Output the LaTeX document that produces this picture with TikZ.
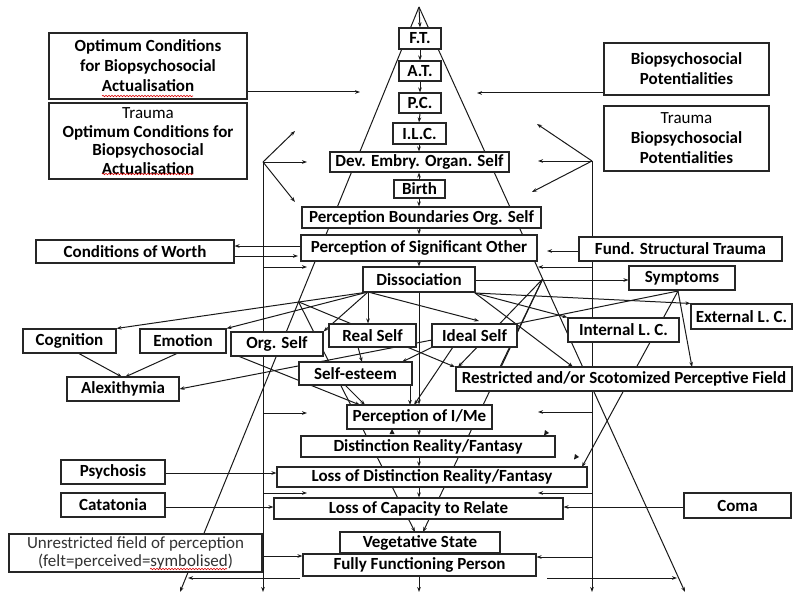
\documentclass[tikz,border=0pt]{standalone}
\usepackage{fontspec}
\setmainfont{Carlito}
\usetikzlibrary{arrows.meta,calc,decorations.pathmorphing,backgrounds}
\begin{document}
\begin{tikzpicture}[x=1pt,y=-1pt,
  box/.style={draw=black!85, line width=1.1pt, fill=white, inner sep=0pt, align=center, font=\bfseries\fontsize{17}{20}\selectfont},
  ln/.style={line width=1pt, draw=black!90},
  arr/.style={ln, -{Stealth[length=5pt,width=3.6pt]}},
  squig/.style={red!85!black, line width=0.6pt, decorate, decoration={snake, amplitude=0.7pt, segment length=3pt}}
]
\useasboundingbox (0,0) rectangle (793,594);

% ---------- boxes ----------
\node[box, minimum width=198pt, minimum height=66pt] (oc) at (148,66) {Optimum Conditions\\for Biopsychosocial\\Actualisation};
\node[box, minimum width=198pt, minimum height=76pt, font=\bfseries\fontsize{17}{18.5}\selectfont] (toc) at (148,141) {{\mdseries Trauma}\\Optimum Conditions for\\Biopsychosocial\\Actualisation};
\node[box, minimum width=165pt, minimum height=52pt] (bp) at (686.5,69) {Biopsychosocial\\Potentialities};
\node[box, minimum width=165pt, minimum height=65pt] (tbp) at (686.5,138.5) {{\mdseries Trauma}\\Biopsychosocial\\Potentialities};

\node[box, minimum width=42pt, minimum height=21pt] (ft) at (420,38.5) {F.T.};
\node[box, minimum width=42pt, minimum height=20pt] (at) at (420,71) {A.T.};
\node[box, minimum width=42pt, minimum height=20pt] (pc) at (420,103) {P.C.};
\node[box, minimum width=53pt, minimum height=21pt] (ilc) at (419.5,133.5) {I.L.C.};
\node[box, minimum width=179pt, minimum height=20pt] (dev) at (419.5,162) {Dev. Embry. Organ. Self};
\node[box, minimum width=51pt, minimum height=18pt] (birth) at (419.5,189) {Birth};
\node[box, minimum width=239pt, minimum height=21pt] (pbos) at (421.5,217.5) {Perception Boundaries Org. Self};
\node[box, minimum width=236pt, minimum height=26pt] (pso) at (419,248) {Perception of Significant Other};
\node[box, minimum width=198pt, minimum height=23pt] (cow) at (135,251.5) {Conditions of Worth};
\node[box, minimum width=203pt, minimum height=24pt] (fst) at (680.5,249) {Fund. Structural Trauma};
\node[box, minimum width=112pt, minimum height=25pt] (diss) at (419,279.5) {Dissociation};
\node[box, minimum width=106pt, minimum height=24pt] (symp) at (682,278) {Symptoms};
\node[box, minimum width=101pt, minimum height=25pt] (ext) at (741.5,316.5) {External L. C.};
\node[box, minimum width=111pt, minimum height=24pt] (intl) at (623.5,330) {Internal L. C.};
\node[box, minimum width=336pt, minimum height=24pt] (restr) at (624,379) {Restricted and/or Scotomized Perceptive Field};
\node[box, minimum width=85pt, minimum height=23pt] (ideal) at (474.5,335.5) {Ideal Self};
\node[box, minimum width=87pt, minimum height=23pt] (real) at (372.5,335.5) {Real Self};
\node[box, minimum width=92pt, minimum height=24pt] (org) at (277,344) {Org. Self};
\node[box, minimum width=113pt, minimum height=23pt] (se) at (355.5,373.5) {Self-esteem};
\node[box, minimum width=93pt, minimum height=24pt] (cog) at (69.5,341) {Cognition};
\node[box, minimum width=86pt, minimum height=24pt] (emo) at (183,341) {Emotion};
\node[box, minimum width=112pt, minimum height=24pt] (alex) at (123,389) {Alexithymia};
\node[box, minimum width=145pt, minimum height=24pt] (pim) at (419.5,417) {Perception of I/Me};
\node[box, minimum width=254pt, minimum height=21pt] (drf) at (428,446.5) {Distinction Reality/Fantasy};
\node[box, minimum width=310pt, minimum height=20pt] (ldrf) at (432,477) {Loss of Distinction Reality/Fantasy};
\node[box, minimum width=289pt, minimum height=21pt] (lcr) at (418.5,508.5) {Loss of Capacity to Relate};
\node[box, minimum width=160pt, minimum height=21pt] (veg) at (420,542.5) {Vegetative State};
\node[box, minimum width=233pt, minimum height=22pt] (ffp) at (419.5,565) {Fully Functioning Person};
\node[box, minimum width=104pt, minimum height=24pt] (psy) at (113,472) {Psychosis};
\node[box, minimum width=104pt, minimum height=24pt] (cat) at (113,505) {Catatonia};
\node[box, minimum width=253pt, minimum height=38pt, font=\mdseries\fontsize{17}{18.5}\selectfont, text=black!80] (unr) at (135.5,553) {Unrestricted field of perception\\(felt=perceived=symbolised)};
\node[box, minimum width=107pt, minimum height=25pt] (coma) at (737.5,505.5) {Coma};

% spell-check squiggles
\draw[squig] (102,96) -- (193,96);
\draw[squig] (102,174) -- (193,174);
\draw[squig] (150,569) -- (227,569);

% ---------- key points ----------
\coordinate (apex) at (419,7);
\coordinate (lbot) at (180,592);
\coordinate (rbot) at (685,592);
\coordinate (L1) at ($(apex)!0.504!(lbot)$);
\coordinate (R1) at ($(apex)!0.465!(rbot)$);
\coordinate (lvt) at (263,162);
\coordinate (lvb) at (263,592);
\coordinate (rvt) at (592,161);
\coordinate (rvb) at (592,592);
\coordinate (dBL) at (368,292);
\coordinate (dBR) at (475,293);
\coordinate (sB) at (678,291);
\coordinate (cx) at (419,0);

\begin{scope}[on background layer]
% big triangle and verticals
\draw[arr] (apex) -- (lbot);
\draw[arr] (apex) -- (rbot);
\draw[arr] (apex) -- (ft.north);
\draw[arr] (lvt) -- (lvb);
\draw[arr] (rvt) -- (rvb);
% forks
\draw[arr] (lvt) -- (295,131);
\draw[arr] (lvt) -- (307,162);
\draw[arr] (lvt) -- (295,202);
\draw[arr] (rvt) -- (537,124);
\draw[arr] (rvt) -- (538,161);
\draw[arr] (rvt) -- (532,192);
% top side arrows
\draw[arr] (oc.east |- 0,92) -- (360,92);
\draw[arr] (bp.west |- 0,93) -- (477,93);
% chain
\draw[arr] (ft.south) -- (at.north);
\draw[arr] (at.south) -- (pc.north);
\draw[arr] (pc.south) -- (cx |- ilc.north);
\draw[arr] (cx |- ilc.south) -- (cx |- dev.north);
\draw[arr] (cx |- birth.north) -- (cx |- dev.south);
\draw[arr] (cx |- birth.south) -- (cx |- pbos.north);
\draw[arr] (cx |- pbos.south) -- (cx |- pso.north);
\draw[arr] (cx |- pso.south) -- (cx |- diss.north);
\draw[arr] (cx |- diss.south) -- (cx |- pim.north);
\draw[arr] (cx |- pim.south) -- (cx |- drf.north);
\draw[arr] (cx |- drf.south) -- (cx |- ldrf.north);
\draw[arr] (cx |- ldrf.south) -- (cx |- lcr.north);
\draw[arr] (cx |- ffp.south) -- (419,592);
% side horizontals
\draw[arr] (pso.west |- 0,246) -- (cow.east |- 0,246);
\draw[arr] (cow.east |- 0,256) -- (298,256);
\draw[arr] (fst.west |- 0,251) -- (547,251);
\draw[arr] (diss.east |- 0,280) -- (symp.west |- 0,280);
\draw[arr] (263,267) -- (307,267);
\draw[arr] (263,413) -- (307,413);
\draw[arr] (263,493) -- (307,493);
\draw[arr] (263,556) -- (ffp.west |- 0,556);
\draw[arr] (592,267) -- (538,267);
\draw[arr] (592,412) -- (538,412);
\draw[arr] (592,493) -- (538,493);
\draw[arr] (592,557) -- (ffp.east |- 0,557);
\draw[arr] (psy.east |- 0,473) -- (ldrf.west |- 0,473);
\draw[arr] (cat.east |- 0,507) -- (lcr.west |- 0,507);
\draw[arr] (coma.west |- 0,507) -- (lcr.east |- 0,507);
\draw[arr] (300,578) -- (188,578);
\draw[arr] (547,578) -- (677,578);
% dissociation fan
\draw[arr] (dBL) -- (cog.north east);
\draw[arr] (dBL) -- (emo.north east);
\draw[arr] (dBL) -- (org.north east);
\draw[arr] (dBL) -- (dBL |- real.north);
\draw[arr] (dBL) -- (479,321);
\draw[arr] (dBR) -- (ext.north west);
\draw[arr] (dBR) -- (intl.north west);
\draw[arr] (dBR) -- (573,367);
% symptoms fan
\draw[ln] (sB) -- (ideal.north east);
\draw[arr] (sB) -- (582,467);
\draw[arr] (sB) -- (692,367);
% lines off the diagonals
\draw[arr] (L1) -- (455,367);
\draw[arr] (L1) -- (415,532);
\draw[ln] (R1) -- (500,367);
\draw[arr] (R1) -- (458,367);
\draw[arr] (R1) -- (423,532);
% self lines
\draw[arr] (432,340) -- (alex.east);
\draw[arr] (ideal.south west) -- (402,362);
\draw[arr] (453,347) -- (414,405);
\draw[arr] (358,347) -- (362,362);
\draw[arr] (238,356) -- (360,405);
\draw[arr] (345,385) -- (365,405);
\draw[arr] (410,385) -- (410,405);
\draw[arr] (78,353) -- (122,377);
\draw[arr] (178,353) -- (125,377);
\end{scope}

% stray arrowheads
\fill[black!90] (392,429) -- (389.5,434) -- (394.5,434) -- cycle;
\fill[black!90] (545,430) -- (544,435.5) -- (549,433) -- cycle;
\fill[black!90] (575,454) -- (574,459.5) -- (579,457) -- cycle;
\end{tikzpicture}
\end{document}
